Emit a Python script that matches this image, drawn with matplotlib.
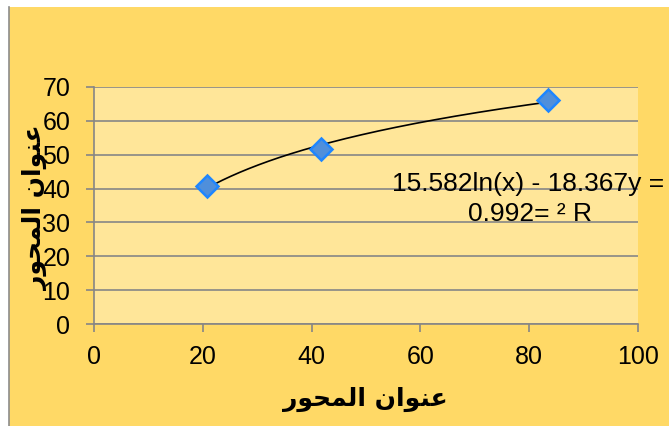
import numpy as np
import matplotlib.pyplot as plt
from matplotlib.lines import Line2D
from matplotlib.patches import Rectangle

# данные
x_vals = [20.8, 41.7, 83.5]
y_vals = [40.8, 51.6, 66.2]
x_ticks = [0, 20, 40, 60, 80, 100]
y_ticks = [0, 10, 20, 30, 40, 50, 60, 70]
eq_line1 = "15.582ln(x) - 18.367y ="
eq_line2 = "0.992= \u00b2 R"
# "عنوان المحور" в формах представления и визуальном порядке (matplotlib не делает bidi)
axis_title = "\uFEAD\uFEEE\uFEA4\uFEE4\uFEDF\uFE8D \uFEE5\uFE8D\uFEEE\uFEE8\uFECB"

W, H = 669, 426
fig = plt.figure(figsize=(W / 100, H / 100), dpi=100)
fig.patch.set_facecolor('white')

# фон области диаграммы
fig.patches.append(Rectangle((9 / W, 0), 1 - 9 / W, 1 - 7 / H, transform=fig.transFigure,
                             facecolor='#FFD966', edgecolor='none', zorder=-10))
fig.lines.append(Line2D([9 / W, 9 / W], [0, 1 - 7 / H], transform=fig.transFigure,
                        color='#8C8C8C', lw=1.2))

ax = fig.add_axes([94 / W, 102 / H, 544 / W, 237 / H])
ax.set_facecolor('#FFE699')
ax.set_xlim(0, 100)
ax.set_ylim(0, 70)
ax.set_xticks(x_ticks)
ax.set_yticks(y_ticks)
for s in ['top', 'right']:
    ax.spines[s].set_visible(False)
for s in ['left', 'bottom']:
    ax.spines[s].set_color('#868686')
    ax.spines[s].set_linewidth(1.2)
ax.grid(axis='y', color='#868686', lw=1.2)
ax.set_axisbelow(True)
ax.tick_params(axis='both', colors='#868686', labelcolor='black', length=6, width=1.2,
               labelsize=18)
ax.tick_params(axis='y', pad=11)
ax.tick_params(axis='x', pad=9)
for lab in ax.get_xticklabels() + ax.get_yticklabels():
    lab.set_fontfamily('Liberation Sans')

# логарифмический тренд по точкам
a, b = np.polyfit(np.log(x_vals), y_vals, 1)
xt = np.linspace(min(x_vals), max(x_vals), 200)
ax.plot(xt, a * np.log(xt) + b, color='black', lw=1.2, zorder=3)
ax.plot(x_vals, y_vals, 'D', markersize=11, markerfacecolor='#4F8FDB',
        markeredgecolor='#1E86FF', markeredgewidth=1.8, zorder=4, clip_on=False)

fig.text(528 / W, 1 - 184 / H, eq_line1, ha='center', va='center', fontsize=19,
         family='Liberation Sans')
fig.text(530 / W, 1 - 214 / H, eq_line2, ha='center', va='center', fontsize=19,
         family='Liberation Sans')

fig.text(365 / W, 1 - 399 / H, axis_title, ha='center', va='center', fontsize=18,
         fontweight='bold', family='DejaVu Sans')
fig.text(35 / W, 1 - 208 / H, axis_title, ha='center', va='center', fontsize=18,
         fontweight='bold', family='DejaVu Sans', rotation=90)

fig.savefig('out.png', dpi=100)
